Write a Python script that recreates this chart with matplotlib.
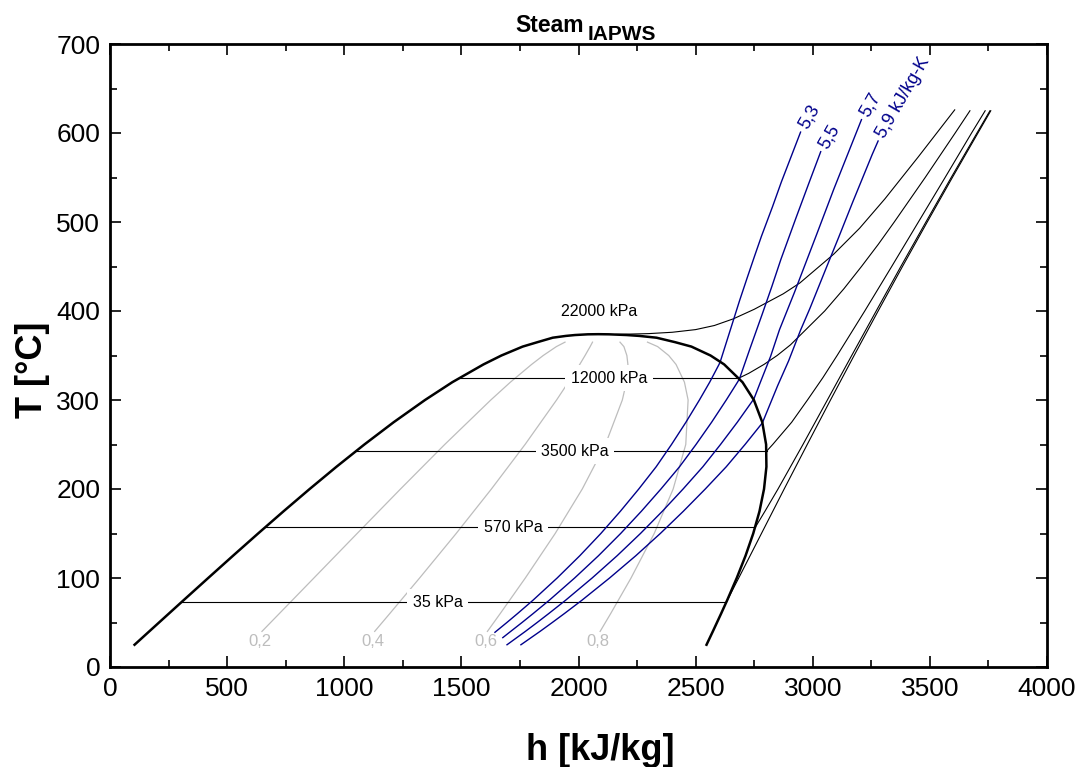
import matplotlib
matplotlib.use("Agg")
import matplotlib.pyplot as plt
from matplotlib.ticker import MultipleLocator

plt.rcParams['font.family'] = ['Liberation Sans', 'DejaVu Sans']

# saturation dome (T in C, h in kJ/kg)
t_sat = [25, 40, 60, 75, 100, 125, 150, 175, 200, 225, 250, 275, 300, 320, 340, 350, 360, 365, 370, 372, 373, 373.8]
h_liq = [104.8, 167.5, 251.2, 314.0, 419.2, 525.1, 632.2, 741.0, 852.3, 966.8, 1085.8, 1210.8, 1344.8, 1461.3,
         1594.5, 1670.9, 1761.5, 1825.0, 1890.0, 1946.0, 1985.0, 2040.0]
h_vap = [2546.5, 2573.5, 2608.8, 2634.6, 2675.6, 2713.1, 2745.9, 2772.7, 2792.0, 2802.2, 2800.9, 2784.6, 2748.7,
         2700.1, 2621.8, 2563.6, 2482.0, 2412.0, 2333.0, 2260.0, 2205.0, 2130.0]
t_crit = 373.95
h_crit = 2084.3

# isobars inside the dome
p_names = ["35 kPa", "570 kPa", "3500 kPa", "12000 kPa"]
p_tsat = [72.7, 156.8, 242.6, 324.7]
p_hf = [304.5, 661.3, 1049.8, 1491.3]
p_hg = [2630.7, 2754.4, 2803.3, 2685.4]
p_label_h = [1400, 1720, 1985, 2130]

# isobars in the superheated region
p35_h = [2630.7, 2684, 2781, 2878, 2976.4, 3075.8, 3176.6, 3279.1, 3383, 3488.8, 3596, 3705.2, 3760]
p35_t = [72.7, 100, 150, 200, 250, 300, 350, 400, 450, 500, 550, 600, 625]
p570_h = [2754.4, 2796, 2851.7, 2958.2, 3062.4, 3166.3, 3270.8, 3376, 3483.1, 3591, 3701.1, 3756.5]
p570_t = [156.8, 175, 200, 250, 300, 350, 400, 450, 500, 550, 600, 625]
p3500_h = [2803.3, 2829, 2910, 2977.5, 3043, 3104, 3222, 3337, 3451, 3565, 3678, 3736]
p3500_t = [242.6, 250, 275, 300, 325, 350, 400, 450, 500, 550, 600, 625]
p12000_h = [2685.4, 2727, 2792, 2848, 2905, 2955, 3051, 3133, 3208, 3280, 3348, 3480, 3608, 3671]
p12000_t = [324.7, 330, 340, 350, 362, 375, 400, 425, 450, 475, 500, 550, 600, 625]
p22000_h = [2160, 2300, 2400, 2500, 2580, 2661, 2750, 2874, 2945, 3090, 3200, 3308, 3450, 3606]
p22000_t = [373.7, 374.6, 376.1, 379.1, 383.7, 391.2, 401.9, 419.3, 431.5, 464, 493, 526, 573, 626]

# lines of constant quality
q_t = [40, 60, 100, 150, 200, 250, 300, 320, 340, 350, 360, 365]
q02_h = [648.7, 722.7, 870.5, 1054.9, 1240.2, 1428.8, 1625.6, 1709.1, 1800.0, 1849.4, 1905.6, 1942.4]
q04_h = [1129.9, 1194.2, 1321.7, 1477.7, 1628.2, 1771.8, 1906.4, 1956.8, 2005.4, 2028.0, 2049.7, 2059.8]
q06_h = [1611.1, 1665.7, 1773.0, 1900.4, 2016.1, 2114.9, 2187.1, 2204.6, 2210.9, 2206.5, 2193.8, 2177.2]
q08_h = [2092.3, 2137.3, 2224.3, 2323.2, 2404.1, 2457.9, 2467.9, 2452.3, 2416.3, 2385.1, 2337.9, 2294.6]
q_names = ["0,2", "0,4", "0,6", "0,8"]

# lines of constant entropy
s53_t = [39, 50, 60, 75, 100, 125, 150, 175, 200, 225, 250, 275, 300, 320, 340, 342.9,
         382, 412, 438, 462, 484, 517, 545, 601]
s53_h = [1643.3, 1694.3, 1739.6, 1805.6, 1908.9, 2005.5, 2095.3, 2178.8, 2257.3, 2331.6, 2397.0, 2458.5, 2516.2,
         2560.0, 2600.0, 2605, 2652, 2688, 2721, 2752, 2781, 2828, 2866, 2948]
s55_t = [33, 40, 50, 60, 75, 100, 125, 150, 175, 200, 225, 250, 275, 300, 320, 323.7,
         357, 397, 428, 458, 505, 544, 579]
s55_h = [1676.8, 1710.5, 1759.0, 1806.2, 1875.2, 1983.5, 2085.2, 2179.9, 2268.4, 2351.9, 2431.3, 2501.6, 2568.2,
         2630.8, 2678.7, 2687, 2731, 2785, 2826, 2864, 2929, 2984, 3034]
s57_t = [25, 40, 50, 60, 75, 100, 125, 150, 175, 200, 225, 250, 275, 300, 300.7,
         319, 349, 379, 421, 454, 487, 537, 578, 615]
s57_h = [1694.8, 1773.2, 1823.5, 1872.8, 1944.9, 2058.2, 2164.8, 2264.4, 2358.0, 2446.5, 2530.9, 2606.2, 2677.9,
         2745.3, 2748, 2775, 2820, 2858, 2922, 2970, 3018, 3090, 3152, 3208]
s59_t = [25, 40, 50, 60, 75, 100, 125, 150, 175, 200, 225, 250, 274.3,
         316, 344, 378.5, 403, 450, 483, 522, 576, 591]
s59_h = [1754.2, 1835.8, 1888.1, 1939.5, 2014.5, 2132.7, 2244.5, 2349.2, 2447.6, 2541.2, 2630.8, 2710.9, 2785,
         2850, 2897, 2948, 2988, 3060, 3111, 3170, 3254, 3279]
s_names = ["5,3", "5,5", "5,7", "5,9 kJ/kg-K"]

navy = '#00008B'
grey = '#bdbdbd'

fig = plt.figure(figsize=(10.82, 7.67), dpi=100)
ax = fig.add_axes([110 / 1082, 1 - 667 / 767, 937 / 1082, 623 / 767])

# quality lines
for hq, name in zip([q02_h, q04_h, q06_h, q08_h], q_names):
    ax.plot(hq, q_t, color=grey, lw=0.9, zorder=1)
    ax.text(hq[0] - 8, 29, name, color=grey, fontsize=12, ha='center', va='center')

# isobars
for name, ts, hf, hg, hl in zip(p_names, p_tsat, p_hf, p_hg, p_label_h):
    ax.plot([hf, hg], [ts, ts], color='black', lw=0.8, zorder=2)
    ax.text(hl, ts, name, fontsize=11.5, ha='center', va='center', zorder=3,
            bbox=dict(facecolor='white', edgecolor='none', pad=4))
for hs, ts in [(p35_h, p35_t), (p570_h, p570_t), (p3500_h, p3500_t), (p12000_h, p12000_t), (p22000_h, p22000_t)]:
    ax.plot(hs, ts, color='black', lw=0.8, zorder=2)
ax.text(2087, 400, "22000 kPa", fontsize=11.5, ha='center', va='center')

# isentropes
for hs, ts, name in zip([s53_h, s55_h, s57_h, s59_h], [s53_t, s55_t, s57_t, s59_t], s_names):
    ax.plot(hs, ts, color=navy, lw=1.0, zorder=4)
    ax.annotate(name, (hs[-1], ts[-1]), xytext=(2, 3), textcoords='offset points',
                color=navy, fontsize=13, rotation=60, rotation_mode='anchor',
                ha='left', va='center')

# saturation dome
ax.plot(h_liq + [h_crit] + h_vap[::-1], t_sat + [t_crit] + t_sat[::-1], color='black', lw=1.8, zorder=5)

ax.set_xlim(0, 4000)
ax.set_ylim(0, 700)
ax.xaxis.set_major_locator(MultipleLocator(500))
ax.xaxis.set_minor_locator(MultipleLocator(250))
ax.yaxis.set_major_locator(MultipleLocator(100))
ax.yaxis.set_minor_locator(MultipleLocator(50))
ax.tick_params(which='both', direction='in', top=True, right=True, labelsize=19, width=1.2, pad=7)
ax.tick_params(which='major', length=8)
ax.tick_params(which='minor', length=5)
for sp in ax.spines.values():
    sp.set_linewidth(2)

fig.text(600 / 1082, 1 - 760 / 767, "h [kJ/kg]", fontsize=26, fontweight='bold', ha='center', va='baseline')
fig.text(33 / 1082, 1 - 370 / 767, "T [°C]", fontsize=26, fontweight='bold', rotation=90, ha='center', va='center')
fig.text(515 / 1082, 1 - 31.7 / 767, "Steam", fontsize=16.5, fontweight='bold', ha='left', va='baseline')
fig.text(588 / 1082, 1 - 40 / 767, "IAPWS", fontsize=15, fontweight='bold', ha='left', va='baseline')

fig.savefig("out.png", dpi=100)
